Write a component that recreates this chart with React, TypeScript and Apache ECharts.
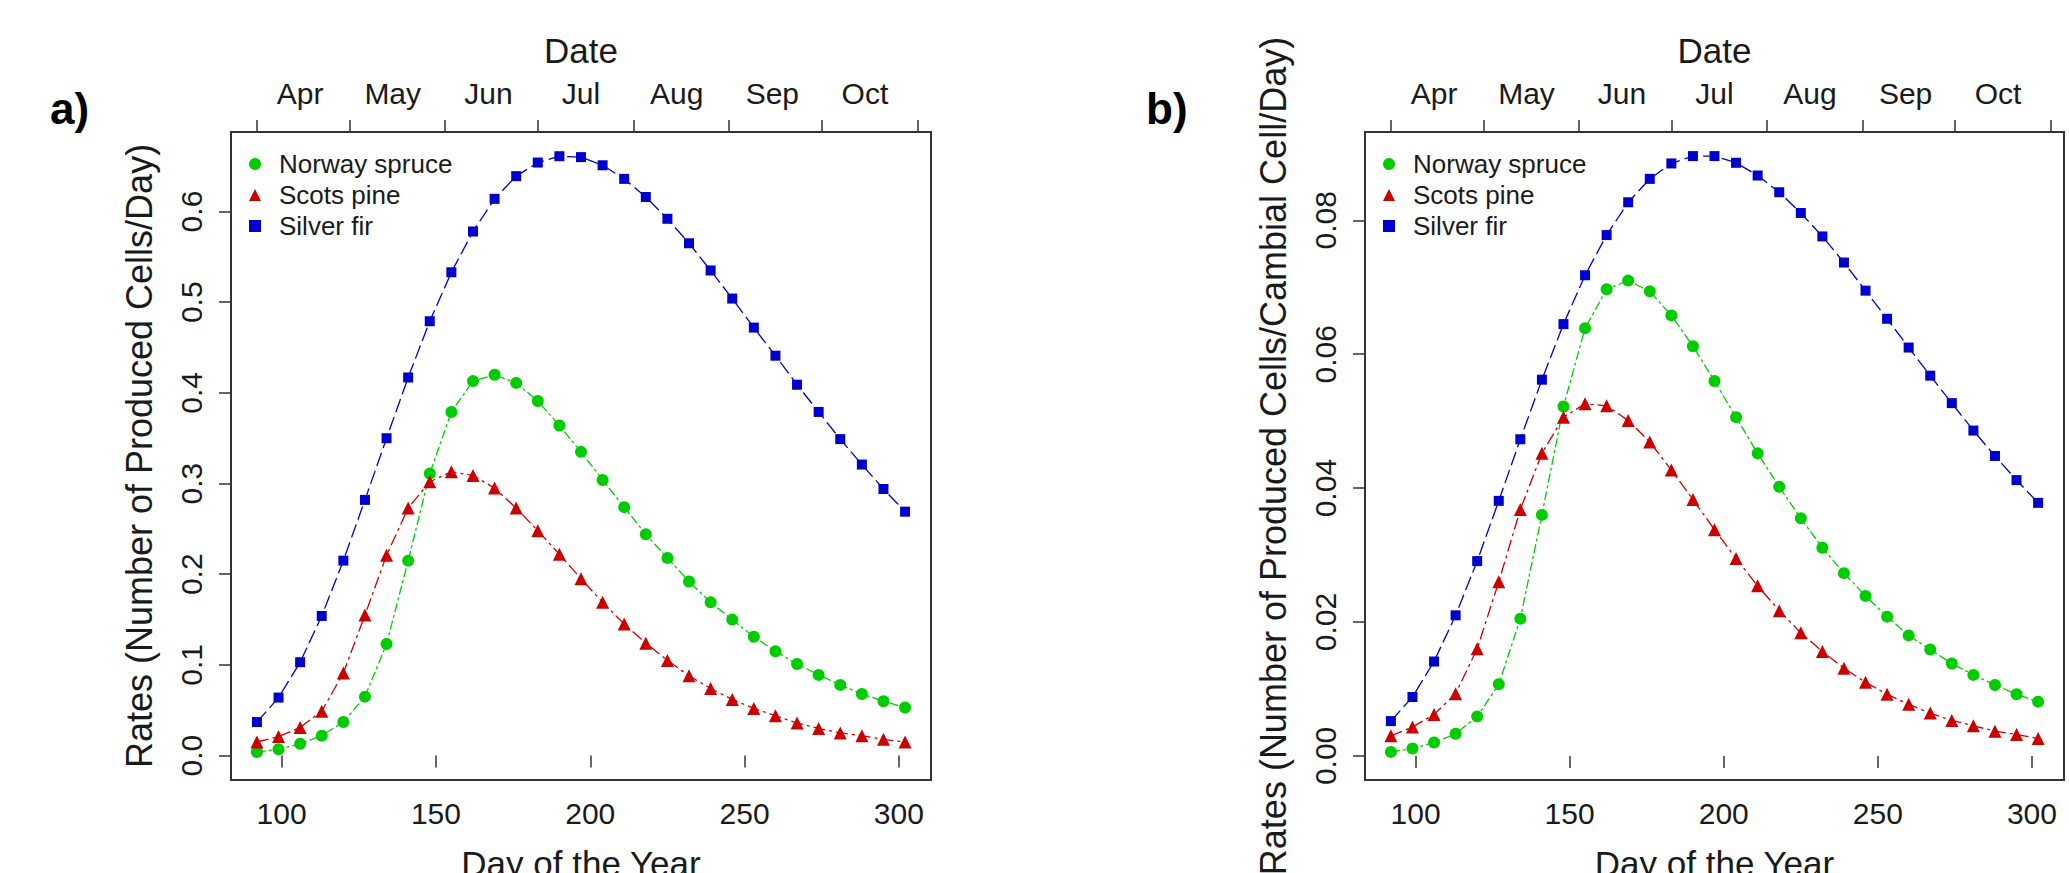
import { useEffect, useRef } from 'react';
import * as echarts from 'echarts';

// Day of year of each sampling point (weekly)
const days = [92, 99, 106, 113, 120, 127, 134, 141, 148, 155, 162, 169, 176, 183, 190, 197, 204, 211, 218, 225, 232, 239, 246, 253, 260, 267, 274, 281, 288, 295, 302];

// Top date axis: month boundaries (ticks) and mid-month label positions
const monthBounds = [92, 122, 153, 183, 214, 245, 275, 306];
const monthMids = [106, 136, 167, 197, 228, 259, 289];
const monthNames = ['Apr', 'May', 'Jun', 'Jul', 'Aug', 'Sep', 'Oct'];

const dayTicks = [100, 150, 200, 250, 300];
const rateTicksA = [0, 0.1, 0.2, 0.3, 0.4, 0.5, 0.6];
const rateTicksB = [0, 0.02, 0.04, 0.06, 0.08];

// a) cells produced per day
const spruceA = [0.004, 0.007, 0.013, 0.022, 0.037, 0.065, 0.123, 0.215, 0.311, 0.379, 0.413, 0.42, 0.411, 0.391, 0.364, 0.335, 0.304, 0.274, 0.244, 0.218, 0.192, 0.169, 0.15, 0.131, 0.115, 0.101, 0.089, 0.078, 0.068, 0.06, 0.053];
const pineA = [0.015, 0.021, 0.031, 0.049, 0.091, 0.155, 0.221, 0.273, 0.302, 0.313, 0.309, 0.295, 0.273, 0.248, 0.222, 0.195, 0.169, 0.145, 0.124, 0.105, 0.088, 0.074, 0.062, 0.052, 0.044, 0.036, 0.03, 0.025, 0.022, 0.018, 0.015];
const firA = [0.037, 0.064, 0.103, 0.154, 0.215, 0.282, 0.35, 0.417, 0.479, 0.533, 0.578, 0.614, 0.639, 0.654, 0.661, 0.66, 0.651, 0.636, 0.616, 0.592, 0.565, 0.535, 0.504, 0.472, 0.441, 0.409, 0.379, 0.349, 0.321, 0.294, 0.269];

// b) cells produced per cambial cell per day
const spruceB = [0.0006, 0.0011, 0.002, 0.0033, 0.0059, 0.0107, 0.0205, 0.036, 0.0522, 0.0639, 0.0697, 0.071, 0.0694, 0.0658, 0.0612, 0.056, 0.0506, 0.0452, 0.0402, 0.0355, 0.0311, 0.0273, 0.0239, 0.0208, 0.018, 0.0159, 0.0138, 0.0121, 0.0106, 0.0092, 0.0081];
const pineB = [0.003, 0.0043, 0.0062, 0.0093, 0.016, 0.026, 0.0368, 0.0452, 0.0506, 0.0526, 0.0523, 0.0501, 0.0469, 0.0427, 0.0383, 0.0338, 0.0295, 0.0254, 0.0217, 0.0184, 0.0156, 0.0131, 0.011, 0.0092, 0.0077, 0.0064, 0.0053, 0.0045, 0.0037, 0.0032, 0.0026];
const firB = [0.0052, 0.0088, 0.0141, 0.021, 0.0291, 0.0381, 0.0473, 0.0562, 0.0645, 0.0718, 0.0778, 0.0827, 0.0862, 0.0885, 0.0896, 0.0896, 0.0886, 0.0867, 0.0842, 0.0811, 0.0776, 0.0737, 0.0695, 0.0653, 0.061, 0.0568, 0.0527, 0.0486, 0.0448, 0.0412, 0.0378];

const FONT = '"Liberation Sans", Arial, Helvetica, sans-serif';
const INK = '#1a1a1a';
const FRAME = '#333333';

const species = [
  { name: 'Norway spruce', color: '#00CD00', symbol: 'circle', size: 12, dash: [9, 3, 3, 3] },
  { name: 'Scots pine', color: '#CD0000', symbol: 'triangle', size: 13, dash: [12, 4, 3, 4] },
  { name: 'Silver fir', color: '#0000CD', symbol: 'rect', size: 10, dash: [14, 5] },
];

const panels = [
  {
    left: 231, width: 700, yMin: -0.0269, yMax: 0.6877, ticks: rateTicksA, digits: 1,
    yName: 'Rates (Number of Produced Cells/Day)', data: [spruceA, pineA, firA], tag: 'a)', tagX: 50,
  },
  {
    left: 1365, width: 699, yMin: -0.0036, yMax: 0.0932, ticks: rateTicksB, digits: 2,
    yName: 'Rates (Number of Produced Cells/Cambial Cell/Day)', data: [spruceB, pineB, firB], tag: 'b)', tagX: 1146,
  },
];

const TOP = 132;
const HEIGHT = 648;

function buildOption() {
  const tickStyle = { show: true, length: 12, inside: false, lineStyle: { color: FRAME, width: 1.5 } };
  const grid: any[] = [];
  const xAxis: any[] = [];
  const yAxis: any[] = [];
  const series: any[] = [];
  const legend: any[] = [];
  const graphic: any[] = [];

  panels.forEach((p, i) => {
    grid.push({
      left: p.left, top: TOP, width: p.width, height: HEIGHT,
      containLabel: false, outerBoundsMode: 'none',
      show: true, borderColor: FRAME, borderWidth: 2, backgroundColor: 'transparent',
    });
    // Day-of-year axis at the bottom
    xAxis.push({
      type: 'value', gridIndex: i, position: 'bottom', min: 83.6, max: 310.4,
      axisLine: { show: false }, splitLine: { show: false },
      axisTick: { ...tickStyle, customValues: dayTicks },
      axisLabel: { customValues: dayTicks, margin: 18, fontSize: 30, color: INK, fontFamily: FONT },
      name: 'Day of the Year', nameLocation: 'middle', nameGap: 66,
      nameTextStyle: { fontSize: 35, color: INK, fontFamily: FONT },
    });
    // Calendar axis at the top
    xAxis.push({
      type: 'value', gridIndex: i, position: 'top', min: 83.6, max: 310.4,
      axisLine: { show: false }, splitLine: { show: false },
      axisTick: { ...tickStyle, customValues: monthBounds },
      axisLabel: {
        customValues: monthMids, margin: 24, fontSize: 30, color: INK, fontFamily: FONT,
        formatter: (v: number) => monthNames[monthMids.indexOf(Math.round(v))] ?? '',
      },
      name: 'Date', nameLocation: 'middle', nameGap: 64,
      nameTextStyle: { fontSize: 35, color: INK, fontFamily: FONT },
    });
    yAxis.push({
      type: 'value', gridIndex: i, min: p.yMin, max: p.yMax,
      axisLine: { show: false }, splitLine: { show: false },
      axisTick: { ...tickStyle, customValues: p.ticks },
      axisLabel: {
        customValues: p.ticks, rotate: 90, margin: 25, fontSize: 30, color: INK, fontFamily: FONT,
        formatter: (v: number) => v.toFixed(p.digits),
      },
      name: p.yName, nameLocation: 'middle', nameGap: 74,
      nameTextStyle: { fontSize: 36, color: INK, fontFamily: FONT },
    });
    species.forEach((s, k) => {
      series.push({
        type: 'line', name: s.name, xAxisIndex: i * 2, yAxisIndex: i,
        data: days.map((d, j) => [d, p.data[k][j]]),
        symbol: s.symbol, symbolSize: s.size, showSymbol: true,
        itemStyle: { color: s.color },
        lineStyle: { color: s.color, width: 1.3, type: s.dash },
        emphasis: { disabled: true },
      });
    });
    legend.push({
      orient: 'vertical', left: p.left + 18, top: 151, padding: 0,
      itemWidth: 12, itemHeight: 12, itemGap: 5, selectedMode: false,
      textStyle: { fontSize: 26, lineHeight: 26, color: INK, fontFamily: FONT, padding: [0, 0, 0, 13] },
      data: species.map((s) => ({ name: s.name, icon: s.symbol, itemStyle: { color: s.color } })),
    });
    graphic.push({
      type: 'text', left: p.tagX, top: 86,
      style: { text: p.tag, font: `bold 44px ${FONT}`, fill: '#000' },
    });
  });

  return { animation: false, backgroundColor: '#ffffff', grid, xAxis, yAxis, series, legend, graphic };
}

export default function App() {
  const ref = useRef<HTMLDivElement>(null);
  useEffect(() => {
    if (!ref.current) return;
    const chart = echarts.init(ref.current, undefined, { renderer: 'svg' });
    chart.setOption(buildOption() as any);
    return () => chart.dispose();
  }, []);
  return (
    <div
      ref={ref}
      style={{ position: 'fixed', left: 0, top: 0, width: 2069, height: 873, background: '#fff' }}
    />
  );
}
